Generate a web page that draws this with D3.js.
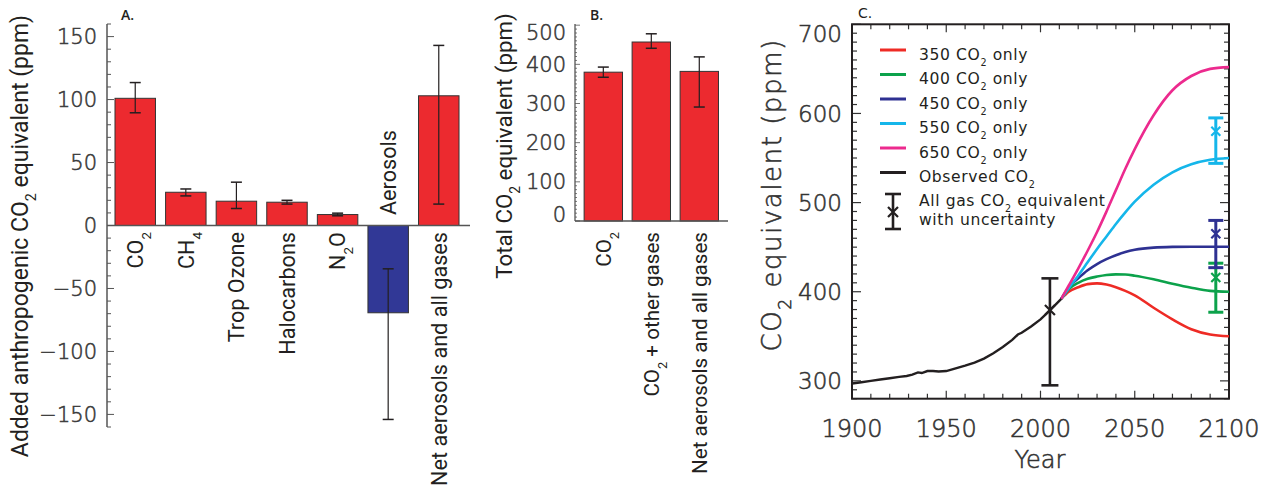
<!DOCTYPE html>
<html><head><meta charset="utf-8">
<script src="https://cdn.jsdelivr.net/npm/d3@7"></script>
<style>
html,body{margin:0;padding:0;background:#fff;}
svg{display:block;}
</style></head>
<body><svg id="c" width="1270" height="488"></svg>
<script>
// ---------------- DATA ----------------
const catsA = ["CO₂", "CH₄", "Trop Ozone", "Halocarbons", "N₂O", "Aerosols", "Net aerosols and all gases"];
const valuesA = [101, 26.4, 19.3, 18.5, 8.7, -69.3, 103];
const errLowA = [89.5, 23.5, 13.5, 17, 7.7, -154, 17];
const errHighA = [113.5, 29, 34.4, 20, 9.8, -34.4, 143];
const ticksA = [-150, -100, -50, 0, 50, 100, 150];

const catsB = ["CO₂", "CO₂ + other gases", "Net aerosols and all gases"];
const valuesB = [380, 457, 382];
const errLowB = [367, 441, 291];
const errHighB = [393, 478, 419];
const ticksB = [0, 100, 200, 300, 400, 500];

const obsYears = [1900,1905,1910,1915,1920,1925,1929,1932,1935,1937,1940,1943,1946,1950,1955,1960,1965,1970,1975,1980,1985,1988,1990,1995,2000,2005,2011];
const obsVals  = [297,298.5,300,301.5,303,304.5,305.5,307,309.5,308.8,311,311,310.5,311,314,317,320.5,325,331,338,346,352,354,361,369,379,392];
const projYears = [2011, 2015, 2020, 2025, 2030, 2035, 2040, 2045, 2050, 2060, 2070, 2080, 2090, 2100];
const s350 = [392, 400, 405, 408.5, 409.4, 408, 405, 401, 396, 382, 369, 358, 352, 350];
const s400 = [392, 403, 410, 414.5, 417, 418.8, 419.5, 419.3, 418, 414, 409, 404.5, 401, 400];
const s450 = [392, 405, 415, 424, 431, 436.5, 441, 444.5, 447, 449.5, 450.3, 450.5, 450.5, 450.5];
const s550 = [392, 404, 418, 433, 448, 462, 476, 489, 501, 520, 534, 543, 548, 550];
const s650 = [392, 407, 426, 446, 467, 490, 514, 538, 560, 598, 626, 642, 650, 652];
const seriesNames = ["350 CO₂ only", "400 CO₂ only", "450 CO₂ only", "550 CO₂ only", "650 CO₂ only", "Observed CO₂"];
const seriesColors = ["#ee2b25", "#0ca24b", "#2e3192", "#15b6ea", "#ec2a8e", "#231f20"];
const errYears = [2005, 2093, 2093, 2093];
const errMid = [379.5, 416, 465, 580];
const errLow = [295, 377, 427, 544];
const errHigh = [415, 432, 480, 595];
const errColors = ["#231f20", "#0ca24b", "#2e3192", "#15b6ea"];
const ticksCx = [1900, 1950, 2000, 2050, 2100];
const ticksCy = [300, 400, 500, 600, 700];

// ---------------- HELPERS ----------------
const svg = d3.select("#c");
const SANS = "Roboto, 'Open Sans', sans-serif";
const GEO = "'DejaVu Sans', sans-serif";
const INK = "#231f20";

function richText(sel, str, subSize) {
  const subMap = {"₂": "2", "₄": "4"};
  let buf = "";
  const flush = () => { if (buf) { sel.append("tspan").text(buf); buf = ""; } };
  for (const ch of str) {
    if (subMap[ch]) {
      flush();
      sel.append("tspan").attr("font-size", subSize).attr("baseline-shift", "sub").text(subMap[ch]);
    } else buf += ch;
  }
  flush();
  return sel;
}
function fitLen(sel, target) {
  const w = sel.node().getBBox().width;
  const fs = parseFloat(sel.attr("font-size"));
  return fs * target / w;
}
function lightNum(sel, color) {
  return sel.attr("font-family", GEO).attr("font-weight", 200).attr("fill", color)
    .attr("stroke", color).attr("stroke-width", 0.55);
}

// ---------------- PANEL A ----------------
{
  const x = d3.scaleBand().domain(catsA).range([107, 467]).paddingInner(0.2).paddingOuter(0.158);
  const y = d3.scaleLinear().domain([-160, 160]).range([427, 24]);
  const g = svg.append("g");

  g.append("line").attr("x1", 107).attr("x2", 107).attr("y1", y(-160)).attr("y2", y(160)).attr("stroke", "#555").attr("stroke-width", 1.5);
  const minor = d3.range(-160, 161, 10);
  g.selectAll(".mt").data(minor).join("line")
    .attr("x1", 107).attr("x2", d => ticksA.includes(d) ? 114 : 111)
    .attr("y1", d => y(d)).attr("y2", d => y(d)).attr("stroke", "#555").attr("stroke-width", 1);
  lightNum(g.selectAll(".tl").data(ticksA).join("text")
    .attr("x", 97).attr("y", d => y(d)).attr("dy", "0.36em")
    .attr("text-anchor", "end").attr("font-size", 21), "#3a3a3a")
    .text(d => d < 0 ? "\u2212" + Math.abs(d) : d);

  g.selectAll(".bar").data(valuesA).join("rect")
    .attr("x", (d, i) => x(catsA[i])).attr("width", x.bandwidth())
    .attr("y", d => y(Math.max(0, d))).attr("height", d => Math.abs(y(d) - y(0)))
    .attr("fill", d => d < 0 ? "#313896" : "#ec2a2f").attr("stroke", "#333").attr("stroke-width", 1);
  g.append("line").attr("x1", 107).attr("x2", 470).attr("y1", y(0)).attr("y2", y(0)).attr("stroke", "#555").attr("stroke-width", 1.5);
  catsA.forEach((c, i) => {
    const cx = x(c) + x.bandwidth() / 2;
    g.append("line").attr("x1", cx).attr("x2", cx).attr("y1", y(errLowA[i])).attr("y2", y(errHighA[i])).attr("stroke", INK).attr("stroke-width", 1.2);
    [errLowA[i], errHighA[i]].forEach(v => g.append("line").attr("x1", cx - 5.5).attr("x2", cx + 5.5).attr("y1", y(v)).attr("y2", y(v)).attr("stroke", INK).attr("stroke-width", 1.5));
  });
  const labs = catsA.map((c, i) => {
    const cx = x(c) + x.bandwidth() / 2;
    const neg = valuesA[i] < 0;
    const t = g.append("text").attr("font-family", SANS).attr("font-size", 20).attr("fill", INK)
      .attr("text-anchor", neg ? "start" : "end")
      .attr("transform", `translate(${cx},${neg ? 215 : 232}) rotate(-90)`).attr("dy", "0.36em");
    richText(t, c, 13);
    return t;
  });
  const fsA = fitLen(labs[6], 254);
  labs.forEach(t => t.attr("font-size", fsA));
  labs.forEach(t => t.selectAll("tspan[baseline-shift]").attr("font-size", fsA * 0.62));

  const yt = g.append("text").attr("font-family", SANS).attr("font-size", 20).attr("fill", INK)
    .attr("text-anchor", "middle").attr("transform", "translate(28,236) rotate(-90)");
  richText(yt, "Added anthropogenic CO₂ equivalent (ppm)", 13);
  const fsYA = fitLen(yt, 443);
  yt.attr("font-size", fsYA); yt.selectAll("tspan[baseline-shift]").attr("font-size", fsYA * 0.62);

  g.append("text").attr("x", 121).attr("y", 20).attr("font-family", "'Open Sans', sans-serif").attr("font-weight", 600)
    .attr("font-size", 14).attr("fill", INK).text("A.");
}

// ---------------- PANEL B ----------------
{
  const x = d3.scaleBand().domain(catsB).range([575, 727.6]).paddingInner(0.2).paddingOuter(0.19);
  const y = d3.scaleLinear().domain([0, 503]).range([221, 24]);
  const g = svg.append("g");
  g.append("line").attr("x1", 575).attr("x2", 575).attr("y1", y(0)).attr("y2", y(503)).attr("stroke", "#555").attr("stroke-width", 1.3);
  g.selectAll(".mt").data(d3.range(0, 501, 10)).join("line")
    .attr("x1", 575).attr("x2", d => d % 100 === 0 ? 580 : 577)
    .attr("y1", d => y(d)).attr("y2", d => y(d)).attr("stroke", "#555").attr("stroke-width", 0.8);
  lightNum(g.selectAll(".tl").data(ticksB).join("text")
    .attr("x", 566).attr("y", d => Math.min(Math.max(y(d), 32), 214)).attr("dy", "0.36em")
    .attr("text-anchor", "end").attr("font-size", 21), "#3a3a3a").text(d => d);
  g.selectAll(".bar").data(valuesB).join("rect")
    .attr("x", (d, i) => x(catsB[i])).attr("width", x.bandwidth())
    .attr("y", d => y(d)).attr("height", d => y(0) - y(d))
    .attr("fill", "#ec2a2f").attr("stroke", "#333").attr("stroke-width", 1);
  g.append("line").attr("x1", 575).attr("x2", 728).attr("y1", y(0)).attr("y2", y(0)).attr("stroke", "#555").attr("stroke-width", 1.5);
  catsB.forEach((c, i) => {
    const cx = x(c) + x.bandwidth() / 2;
    g.append("line").attr("x1", cx).attr("x2", cx).attr("y1", y(errLowB[i])).attr("y2", y(errHighB[i])).attr("stroke", INK).attr("stroke-width", 1.2);
    [errLowB[i], errHighB[i]].forEach(v => g.append("line").attr("x1", cx - 5.5).attr("x2", cx + 5.5).attr("y1", y(v)).attr("y2", y(v)).attr("stroke", INK).attr("stroke-width", 1.5));
  });
  const labs = catsB.map((c, i) => {
    const cx = x(c) + x.bandwidth() / 2;
    const t = g.append("text").attr("font-family", SANS).attr("font-size", 20).attr("fill", INK)
      .attr("text-anchor", "end").attr("transform", `translate(${cx},232) rotate(-90)`).attr("dy", "0.36em");
    richText(t, c, 13);
    return t;
  });
  const fsB = fitLen(labs[2], 242);
  labs.forEach(t => t.attr("font-size", fsB));
  labs.forEach(t => t.selectAll("tspan[baseline-shift]").attr("font-size", fsB * 0.62));

  const yt = g.append("text").attr("font-family", SANS).attr("font-size", 20).attr("fill", INK)
    .attr("text-anchor", "middle").attr("transform", "translate(512,146) rotate(-90)");
  richText(yt, "Total CO₂ equivalent (ppm)", 13);
  const fsYB = fitLen(yt, 266);
  yt.attr("font-size", fsYB); yt.selectAll("tspan[baseline-shift]").attr("font-size", fsYB * 0.62);

  g.append("text").attr("x", 590).attr("y", 20).attr("font-family", "'Open Sans', sans-serif").attr("font-weight", 600)
    .attr("font-size", 14).attr("fill", INK).text("B.");
}

// ---------------- PANEL C ----------------
{
  const X0 = 852, X1 = 1229, Y0 = 24.3, Y1 = 398.7;
  const x = d3.scaleLinear().domain([1900, 2100]).range([X0, X1]);
  const y = d3.scaleLinear().domain([280, 700]).range([Y1, Y0]);
  const g = svg.append("g");
  const clip = svg.append("defs").append("clipPath").attr("id", "clipC");
  clip.append("rect").attr("x", X0).attr("y", Y0).attr("width", X1 - X0).attr("height", Y1 - Y0);

  d3.range(1900, 2101, 10).forEach(v => {
    const L = v % 50 === 0 ? 8 : 5;
    g.append("line").attr("x1", x(v)).attr("x2", x(v)).attr("y1", Y1).attr("y2", Y1 - L).attr("stroke", "#333").attr("stroke-width", 1.2);
    g.append("line").attr("x1", x(v)).attr("x2", x(v)).attr("y1", Y0).attr("y2", Y0 + L).attr("stroke", "#333").attr("stroke-width", 1.2);
  });
  d3.range(280, 701, 10).forEach(v => {
    const L = v % 100 === 0 ? 9 : 5;
    g.append("line").attr("y1", y(v)).attr("y2", y(v)).attr("x1", X0).attr("x2", X0 + L).attr("stroke", "#333").attr("stroke-width", 1.2);
    g.append("line").attr("y1", y(v)).attr("y2", y(v)).attr("x1", X1).attr("x2", X1 - L).attr("stroke", "#333").attr("stroke-width", 1.2);
  });
  g.append("rect").attr("x", X0).attr("y", Y0).attr("width", X1 - X0).attr("height", Y1 - Y0)
    .attr("fill", "none").attr("stroke", "#231f20").attr("stroke-width", 2);

  lightNum(g.selectAll(".xl").data(ticksCx).join("text")
    .attr("x", d => x(d)).attr("y", 437).attr("text-anchor", "middle").attr("font-size", 24), "#333").text(d => d);
  lightNum(g.selectAll(".yl").data(ticksCy).join("text")
    .attr("x", 842).attr("y", d => Math.max(y(d), 34)).attr("dy", "0.36em").attr("text-anchor", "end")
    .attr("font-size", 23), "#333").text(d => d);
  lightNum(g.append("text").attr("x", 1040).attr("y", 468).attr("text-anchor", "middle").attr("font-size", 24), "#333").text("Year");
  const ytl = lightNum(g.append("text").attr("font-size", 24), "#333")
    .attr("text-anchor", "middle").attr("transform", "translate(781,195) rotate(-90)").attr("letter-spacing", 1.5);
  richText(ytl, "CO₂ equivalent (ppm)", 16);
  const fsYC = fitLen(ytl, 316);
  ytl.attr("font-size", fsYC); ytl.selectAll("tspan[baseline-shift]").attr("font-size", fsYC * 0.66);

  g.append("text").attr("x", 858).attr("y", 18).attr("font-family", GEO).attr("font-size", 14).attr("fill", INK).text("C.");

  const lg = g.append("g").attr("clip-path", "url(#clipC)");
  const line = d3.line().x(d => x(d[0])).y(d => y(d[1])).curve(d3.curveMonotoneX);
  [s350, s400, s450, s550, s650].forEach((vals, k) => {
    lg.append("path").datum(projYears.map((yr, i) => [yr, vals[i]]))
      .attr("d", line).attr("fill", "none").attr("stroke", seriesColors[k]).attr("stroke-width", 2.6);
  });
  lg.append("path").datum(obsYears.map((yr, i) => [yr, obsVals[i]]))
    .attr("d", d3.line().x(d => x(d[0])).y(d => y(d[1]))).attr("fill", "none")
    .attr("stroke", seriesColors[5]).attr("stroke-width", 2.4);

  errYears.forEach((yr, i) => {
    const cx = x(yr), cap = i === 0 ? 8.5 : 7.5, sw = i === 0 ? 2.6 : 3;
    g.append("line").attr("x1", cx).attr("x2", cx).attr("y1", y(errLow[i])).attr("y2", y(errHigh[i])).attr("stroke", errColors[i]).attr("stroke-width", sw);
    [errLow[i], errHigh[i]].forEach(v => g.append("line").attr("x1", cx - cap).attr("x2", cx + cap).attr("y1", y(v)).attr("y2", y(v)).attr("stroke", errColors[i]).attr("stroke-width", sw));
    const s = i === 0 ? 5 : 4.5, cy = y(errMid[i]);
    g.append("path").attr("d", `M${cx - s},${cy - s}L${cx + s},${cy + s}M${cx - s},${cy + s}L${cx + s},${cy - s}`)
      .attr("stroke", errColors[i]).attr("stroke-width", 2.2).attr("fill", "none");
  });

  const lgd = g.append("g");
  const rowY = [50, 74.5, 99, 123.5, 148, 172.5];
  const legTexts = [];
  seriesNames.forEach((nm, k) => {
    lgd.append("line").attr("x1", 880).attr("x2", 906).attr("y1", rowY[k]).attr("y2", rowY[k]).attr("stroke", seriesColors[k]).attr("stroke-width", 3);
    const t = lgd.append("text").attr("x", 919).attr("y", rowY[k] + 9.5).attr("font-family", GEO).attr("font-size", 16).attr("fill", INK).attr("letter-spacing", 0.6);
    richText(t, nm, 11);
    legTexts.push(t);
  });
  const ex = 893;
  lgd.append("line").attr("x1", ex).attr("x2", ex).attr("y1", 194).attr("y2", 229).attr("stroke", INK).attr("stroke-width", 2.6);
  [194, 229].forEach(v => lgd.append("line").attr("x1", ex - 8).attr("x2", ex + 8).attr("y1", v).attr("y2", v).attr("stroke", INK).attr("stroke-width", 2.6));
  lgd.append("path").attr("d", `M${ex - 5},${207}L${ex + 5},${217}M${ex - 5},${217}L${ex + 5},${207}`).attr("stroke", INK).attr("stroke-width", 2.2);
  const t1 = lgd.append("text").attr("x", 919).attr("y", 205.5).attr("font-family", GEO).attr("font-size", 16).attr("fill", INK).attr("letter-spacing", 0.6);
  richText(t1, "All gas CO₂ equivalent", 11);
  const t2 = lgd.append("text").attr("x", 919).attr("y", 225).attr("font-family", GEO).attr("font-size", 16).attr("fill", INK).attr("letter-spacing", 0.6).text("with uncertainty");
  const fsL = fitLen(t1, 187);
  [...legTexts, t1, t2].forEach(t => { t.attr("font-size", fsL); t.selectAll("tspan[baseline-shift]").attr("font-size", fsL * 0.62); });
}
</script>
</body></html>
